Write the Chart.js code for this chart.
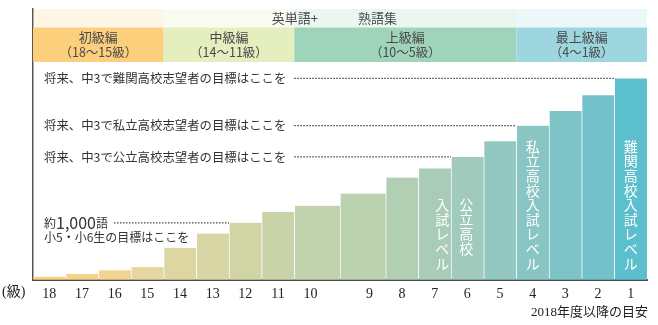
<!DOCTYPE html>
<html lang="ja">
<head>
<meta charset="utf-8">
<script src="https://cdn.jsdelivr.net/npm/chart.js@4"></script>
<style>
  body { margin: 0; background: #fff; }
  #wrap { width: 658px; height: 325px; }
</style>
</head>
<body>
<div id="wrap"><canvas id="chart"></canvas></div>
<script>
// 級 (grade) list, left to right
const grades = ['18', '17', '16', '15', '14', '13', '12', '11', '10', '9', '8', '7', '6', '5', '4', '3', '2', '1'];
// position of each grade on the x axis (10級 and 9級 get the wider slots)
const gradePos = [0, 1, 2, 3, 4, 5, 6, 7, 8, 9.8, 10.8, 11.8, 12.8, 13.8, 14.8, 15.8, 16.8, 17.8];
// approx. number of words per grade
const words = [60, 110, 175, 230, 565, 815, 1000, 1190, 1300, 1510, 1790, 1950, 2150, 2425, 2695, 2950, 3225, 3520];
const barColors = ['#F9CF80', '#F6D189', '#F3D492', '#E4D7A0', '#DDD6A2', '#D7D6A4', '#D1D5A6', '#C9D3A9', '#C2D2AD',
  '#BCD1B0', '#B2CFB4', '#A8CCB7', '#A0CABB', '#93C8C0', '#89C6C3', '#7EC4C7', '#73C2CB', '#5CBFCE'];

// course bands across the top
const courseNames = ['初級編', '中級編', '上級編', '最上級編'];
const courseRanges = ['（18〜15級）', '（14〜11級）', '（10〜5級）', '（4〜1級）'];
const courseFirst = [0, 4, 8, 14];
const courseLast = [3, 7, 13, 17];
const courseColors = ['#FCCF7D', '#E4EEBF', '#A0D4BA', '#9ED6E0'];

// goal lines: text and the bar they point at
const goalTexts = ['将来、中3で難関高校志望者の目標はここを', '将来、中3で私立高校志望者の目標はここを', '将来、中3で公立高校志望者の目標はここを'];
const goalBars = [17, 14, 12];
const wordGoalBar = 6;

// vertical labels inside the bars
const levelTexts = ['難関高校入試レベル', '私立高校入試レベル', '公立高校', '入試レベル'];
const levelBars = [17, 14, 12, 12];
const levelShift = [0, 0, -1, -25];
const levelBottom = [10, 10, 25, 10];

const JP = "'Noto Sans CJK JP', sans-serif";
const SERIF = "'Liberation Serif', 'Noto Sans CJK JP', serif";

function barEdges(chart, i) {
  const bar = chart.getDatasetMeta(0).data[i];
  return { left: bar.x - bar.width / 2, right: bar.x + bar.width / 2, x: bar.x, top: bar.y };
}

const decor = {
  id: 'decor',
  beforeDatasetsDraw(chart) {
    const ctx = chart.ctx, area = chart.chartArea;
    const rowTop = area.top, rowMid = area.top + 18.5, rowBottom = area.top + 53;
    ctx.save();
    courseNames.forEach((name, k) => {
      const l = barEdges(chart, courseFirst[k]).left;
      const r = barEdges(chart, courseLast[k]).right;
      ctx.globalAlpha = 0.2;
      ctx.fillStyle = courseColors[k];
      ctx.fillRect(l, rowTop, r - l, rowMid - rowTop);
      ctx.globalAlpha = 1;
      ctx.fillRect(l, rowMid, r - l, rowBottom - rowMid);
      ctx.fillStyle = '#4a4a4a';
      ctx.textAlign = 'center';
      ctx.textBaseline = 'middle';
      ctx.font = '13px ' + JP;
      ctx.fillText(name, (l + r) / 2, rowMid + 10);
      ctx.font = '12.5px ' + JP;
      ctx.fillText(courseRanges[k], (l + r) / 2, rowMid + 25);
    });
    // 英単語+ 熟語集 heading, split around the 10級/9級 boundary
    const split = barEdges(chart, 8).right;
    ctx.font = '13px ' + JP;
    ctx.fillStyle = '#4a4a4a';
    ctx.textAlign = 'right';
    ctx.fillText('英単語+', split - 22, rowTop + 9.5);
    ctx.textAlign = 'left';
    ctx.fillText('熟語集', split + 18, rowTop + 9.5);
    ctx.restore();
  },
  afterDatasetsDraw(chart) {
    const ctx = chart.ctx, area = chart.chartArea;
    const y = chart.scales.y;
    const textX = area.left + 11;
    ctx.save();
    ctx.textBaseline = 'middle';
    ctx.textAlign = 'left';
    ctx.strokeStyle = '#444';
    ctx.lineWidth = 1.2;
    ctx.setLineDash([1.5, 1.5]);

    goalTexts.forEach((t, k) => {
      const b = barEdges(chart, goalBars[k]);
      const ly = y.getPixelForValue(words[goalBars[k]]);
      ctx.font = '12.4px ' + JP;
      ctx.fillStyle = '#333';
      ctx.fillText(t, textX, ly);
      ctx.beginPath();
      ctx.moveTo(textX + ctx.measureText(t).width + 8, ly);
      ctx.lineTo(b.left, ly);
      ctx.stroke();
    });

    // 約1,000語 line
    const wb = barEdges(chart, wordGoalBar);
    const wy = y.getPixelForValue(words[wordGoalBar]);
    let x = textX;
    ctx.fillStyle = '#333';
    ctx.font = '12px ' + JP;
    ctx.fillText('約', x, wy + 1);
    x += ctx.measureText('約').width;
    ctx.font = '16px ' + JP;
    ctx.fillText('1,000', x, wy);
    x += ctx.measureText('1,000').width;
    ctx.font = '12px ' + JP;
    ctx.fillText('語', x, wy + 1);
    x += ctx.measureText('語').width;
    ctx.beginPath();
    ctx.moveTo(x + 6, wy);
    ctx.lineTo(wb.left, wy);
    ctx.stroke();
    ctx.fillText('小5・小6生の目標はここを', textX, wy + 15);

    // vertical labels, set one character per row
    ctx.setLineDash([]);
    ctx.fillStyle = '#fff';
    ctx.textAlign = 'center';
    ctx.font = '14px ' + JP;
    const step = 14.6;
    levelTexts.forEach((t, k) => {
      const b = barEdges(chart, levelBars[k]);
      const chars = Array.from(t);
      const last = area.bottom - levelBottom[k] - 7;
      chars.forEach((c, i) => {
        ctx.fillText(c, b.x + levelShift[k], last - (chars.length - 1 - i) * step);
      });
    });

    // axis unit and footnote
    ctx.fillStyle = '#222';
    ctx.textAlign = 'left';
    ctx.font = '14px ' + SERIF;
    ctx.fillText('(級)', 2, area.bottom + 12);
    ctx.textAlign = 'right';
    ctx.font = '13px ' + SERIF;
    ctx.fillText('2018年度以降の目安', area.right + 1, area.bottom + 32);
    ctx.restore();
  }
};

new Chart(document.getElementById('chart'), {
  type: 'bar',
  data: {
    datasets: [{
      data: gradePos.map((p, i) => ({ x: p, y: words[i] })),
      backgroundColor: barColors,
      borderColor: 'rgba(255,255,255,0.35)',
      borderWidth: { left: 1, right: 0, top: 0, bottom: 0 },
      borderSkipped: false,
      barThickness: 'flex',
      categoryPercentage: 1,
      barPercentage: 1
    }]
  },
  options: {
    responsive: true,
    maintainAspectRatio: false,
    animation: false,
    layout: { padding: { left: 33, right: 11, top: 9, bottom: 16 } },
    plugins: { legend: { display: false }, tooltip: { enabled: false } },
    scales: {
      x: {
        type: 'linear',
        offset: false,
        min: gradePos[0] - 0.5,
        max: gradePos[gradePos.length - 1] + 0.5,
        afterBuildTicks: (scale) => { scale.ticks = gradePos.map(v => ({ value: v })); },
        ticks: {
          autoSkip: false,
          maxRotation: 0,
          padding: 6,
          color: '#222',
          font: { family: SERIF, size: 14 },
          callback: (v) => grades[gradePos.indexOf(v)]
        },
        grid: { display: true, drawOnChartArea: false, drawTicks: false },
        border: { color: '#4a4a4a', width: 2 }
      },
      y: {
        min: 0,
        max: 4730,
        ticks: { display: false },
        grid: { display: true, drawOnChartArea: false, drawTicks: false },
        border: { color: '#555', width: 1.5 }
      }
    }
  },
  plugins: [decor]
});
</script>
</body>
</html>
